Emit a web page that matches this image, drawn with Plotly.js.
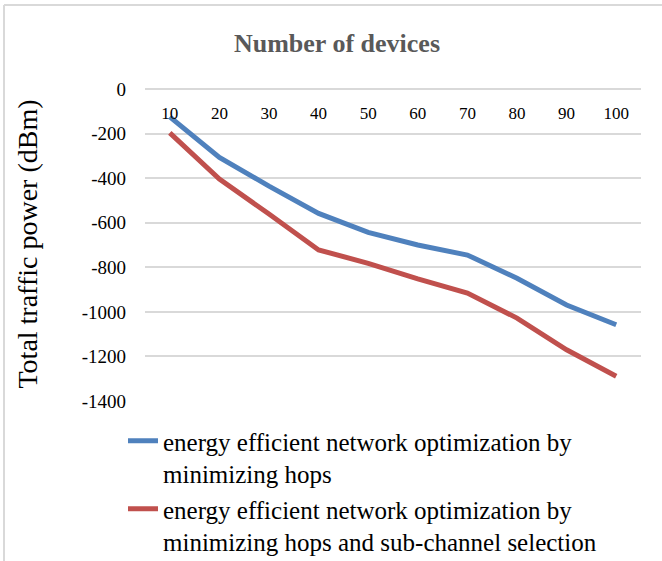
<!DOCTYPE html>
<html>
<head>
<meta charset="utf-8">
<script src="https://cdn.plot.ly/plotly-3.0.1.min.js"></script>
<style>
  html, body { margin: 0; padding: 0; background: #ffffff; }
  #chart { width: 662px; height: 561px; }
</style>
</head>
<body>
<div id="chart"></div>
<script>
// ---- Data ----
const devices = ['10', '20', '30', '40', '50', '60', '70', '80', '90', '100'];
const hopsOnly = [-125, -307, -436, -558, -643, -700, -745, -849, -969, -1058];
const hopsAndSubChannel = [-197, -404, -561, -722, -782, -852, -916, -1028, -1170, -1289];
const yTickValues = [0, -200, -400, -600, -800, -1000, -1200, -1400];
const seriesNames = [
  'energy efficient network optimization by<br>minimizing hops',
  'energy efficient network optimization by<br>minimizing hops and sub-channel selection'
];
const chartTitle = 'Number of devices';
const yTitle = 'Total traffic power (dBm)';

// ---- Layout geometry (pixels) ----
const W = 662, H = 561;
const L = 145, R = 21, T = 87, B = 160;
const pw = W - L - R, ph = H - T - B;
const px = x => (x - L) / pw;          // container px -> paper x
const py = y => (H - B - y) / ph;      // container px -> paper y

const yRange = [-1400, 9];
const yToPaper = v => (v - yRange[0]) / (yRange[1] - yRange[0]);

const serif = '"Liberation Serif", "Times New Roman", serif';
const gridColor = '#d9d9d9';

const traces = [
  {
    x: devices, y: hopsOnly, name: seriesNames[0],
    type: 'scatter', mode: 'lines',
    line: { color: '#4F81BD', width: 5 }
  },
  {
    x: devices, y: hopsAndSubChannel, name: seriesNames[1],
    type: 'scatter', mode: 'lines',
    line: { color: '#C0504D', width: 5 }
  }
];

const layout = {
  width: W, height: H,
  margin: { l: L, r: R, t: T, b: B, pad: 0, autoexpand: false },
  paper_bgcolor: '#ffffff',
  plot_bgcolor: '#ffffff',
  font: { family: serif, color: '#000000' },
  title: {
    text: '<b>' + chartTitle + '</b>',
    font: { family: serif, size: 26, color: '#595959' },
    xref: 'container', yref: 'container',
    x: 337 / W, xanchor: 'center',
    y: 1 - 43 / H, yanchor: 'middle'
  },
  xaxis: {
    type: 'category',
    categoryorder: 'array', categoryarray: devices,
    range: [-0.5, devices.length - 0.5],
    anchor: 'free', position: 1, side: 'bottom',
    ticklabelstandoff: 14,
    showgrid: false, zeroline: false, showline: false,
    ticks: '',
    tickfont: { family: serif, size: 17, color: '#000000' },
    fixedrange: true
  },
  yaxis: {
    range: yRange,
    tickmode: 'array', tickvals: yTickValues,
    ticktext: yTickValues.map(v => String(v)),
    showgrid: true, gridcolor: gridColor, gridwidth: 2,
    zeroline: false, showline: false, ticks: '',
    ticklabelstandoff: 18,
    tickfont: { family: serif, size: 19, color: '#000000' },
    title: {
      text: yTitle,
      font: { family: serif, size: 28, color: '#000000' },
      standoff: 35
    },
    fixedrange: true
  },
  showlegend: true,
  legend: {
    x: px(123), xanchor: 'left',
    y: py(418), yanchor: 'top',
    orientation: 'v',
    valign: 'top',
    bgcolor: 'rgba(0,0,0,0)',
    font: { family: serif, size: 25, color: '#000000' },
    tracegroupgap: 0
  },
  shapes: [
    // gridline at the top tick value (y = 0), placed through the axis range
    { type: 'line', xref: 'paper', yref: 'paper', layer: 'above',
      x0: 0, x1: 1, y0: yToPaper(yTickValues[0]), y1: yToPaper(yTickValues[0]),
      line: { color: gridColor, width: 2 } },
    // chart-area border (top and left edges visible in the reference)
    { type: 'line', xref: 'paper', yref: 'paper',
      x0: px(4), x1: px(662), y0: py(5), y1: py(5),
      line: { color: gridColor, width: 2 } },
    { type: 'line', xref: 'paper', yref: 'paper',
      x0: px(4), x1: px(4), y0: py(5), y1: py(561),
      line: { color: gridColor, width: 2 } }
  ]
};

Plotly.newPlot('chart', traces, layout, { staticPlot: true, displayModeBar: false });
</script>
</body>
</html>
